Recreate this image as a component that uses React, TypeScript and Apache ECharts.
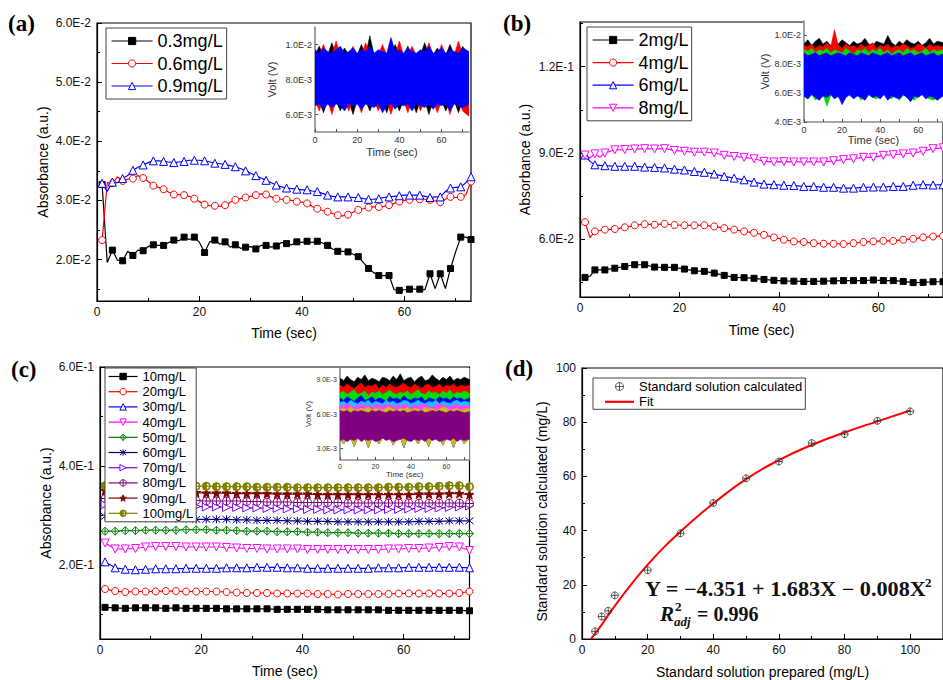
import React, { useEffect, useRef } from 'react';
import * as echarts from 'echarts';

const FONT = "'Liberation Sans', Arial, Helvetica, sans-serif";
const SERIF = "'Liberation Serif', 'Times New Roman', serif";

// ---------- time grids ----------
const A_T = Array.from({ length: 73 }, (_, i) => i + 1);
const B_T = [1, 2, 3, 4, 5, 7, 9, 11, 13, 15, 17, 19, 21, 23, 25, 27, 29, 31, 33, 35, 37, 39, 41, 43, 45, 47, 49, 51, 53, 55, 57, 59, 61, 63, 65, 67, 69, 71, 73];
const C_T = Array.from({ length: 37 }, (_, i) => 2 * i + 1);
const I_T = [0, 2, 4, 6, 8, 10, 12, 14, 16, 18, 20, 22, 24, 26, 28, 30, 32, 34, 36, 38, 40, 42, 44, 46, 48, 50, 52, 54, 56, 58, 60, 62, 64, 66, 68, 70, 73];

// ---------- panel (a) ----------
const A_NAMES = ['0.3mg/L', '0.6mg/L', '0.9mg/L'];
const A_03 = [0.0327, 0.0195, 0.0216, 0.0199, 0.0198, 0.0214, 0.0207, 0.0216, 0.0215, 0.0222,
  0.0225, 0.0224, 0.0224, 0.0229, 0.0233, 0.0232, 0.0238, 0.0234, 0.0238, 0.0229,
  0.0212, 0.0230, 0.0233, 0.0226, 0.0230, 0.0221, 0.0225, 0.0219, 0.0221, 0.0222,
  0.0218, 0.0224, 0.0224, 0.0221, 0.0223, 0.0229, 0.0227, 0.0225, 0.0230, 0.0229,
  0.0231, 0.0229, 0.0231, 0.0228, 0.0224, 0.0218, 0.0214, 0.0214, 0.0213, 0.0209,
  0.0205, 0.0195, 0.0185, 0.0178, 0.0173, 0.0173, 0.0173, 0.0149, 0.0148, 0.0149,
  0.0150, 0.0150, 0.0150, 0.0149, 0.0176, 0.0151, 0.0176, 0.0151, 0.0185, 0.0213,
  0.0238, 0.0238, 0.0234];
const A_06 = [0.0233, 0.0330, 0.0329, 0.0340, 0.0333, 0.0336, 0.0337, 0.0342, 0.0338, 0.0332,
  0.0325, 0.0322, 0.0319, 0.0314, 0.0310, 0.0310, 0.0309, 0.0307, 0.0303, 0.0298,
  0.0293, 0.0291, 0.0291, 0.0290, 0.0292, 0.0297, 0.0301, 0.0303, 0.0305, 0.0307,
  0.0309, 0.0311, 0.0310, 0.0306, 0.0303, 0.0302, 0.0301, 0.0300, 0.0298, 0.0297,
  0.0295, 0.0290, 0.0286, 0.0283, 0.0281, 0.0278, 0.0275, 0.0274, 0.0276, 0.0280,
  0.0284, 0.0286, 0.0288, 0.0289, 0.0289, 0.0290, 0.0292, 0.0295, 0.0298, 0.0300,
  0.0301, 0.0302, 0.0302, 0.0302, 0.0301, 0.0299, 0.0297, 0.0302, 0.0306, 0.0305,
  0.0306, 0.0310, 0.0332];
const A_09 = [0.0329, 0.0315, 0.0331, 0.0330, 0.0337, 0.0342, 0.0351, 0.0356, 0.0360, 0.0364,
  0.0367, 0.0367, 0.0366, 0.0365, 0.0364, 0.0365, 0.0366, 0.0368, 0.0368, 0.0368,
  0.0367, 0.0365, 0.0363, 0.0362, 0.0361, 0.0359, 0.0357, 0.0354, 0.0350, 0.0346,
  0.0342, 0.0338, 0.0334, 0.0330, 0.0326, 0.0323, 0.0321, 0.0320, 0.0319, 0.0318,
  0.0318, 0.0316, 0.0315, 0.0312, 0.0309, 0.0307, 0.0306, 0.0306, 0.0306, 0.0305,
  0.0305, 0.0303, 0.0302, 0.0302, 0.0303, 0.0305, 0.0306, 0.0307, 0.0308, 0.0309,
  0.0309, 0.0309, 0.0309, 0.0307, 0.0305, 0.0306, 0.0306, 0.0315, 0.0321, 0.0322,
  0.0323, 0.0330, 0.0340];
const A_Y_LABELS = [0.02, 0.03, 0.04, 0.05, 0.06];
const A_Y_MINOR = [0.015, 0.025, 0.035, 0.045, 0.055];

// inset (a): noise envelopes (upper / lower edge of each trace)
const AI_BLACK_HI = [0.0094, 0.0099, 0.0094, 0.0094, 0.0101, 0.0094, 0.0094, 0.0098, 0.0094, 0.0094, 0.0094, 0.0100, 0.0094, 0.0105, 0.0094, 0.0094, 0.0098, 0.0094, 0.0094, 0.0100, 0.0094, 0.0094, 0.0099, 0.0094, 0.0094, 0.0094, 0.0101, 0.0094, 0.0094, 0.0098, 0.0094, 0.0094, 0.0100, 0.0094, 0.0094, 0.0099, 0.0094];
const AI_BLACK_LO = [0.0068, 0.0068, 0.0061, 0.0068, 0.0068, 0.0068, 0.0062, 0.0068, 0.0068, 0.0060, 0.0068, 0.0068, 0.0068, 0.0062, 0.0068, 0.0068, 0.0068, 0.0061, 0.0068, 0.0068, 0.0062, 0.0068, 0.0068, 0.0068, 0.0061, 0.0068, 0.0068, 0.0060, 0.0068, 0.0068, 0.0068, 0.0062, 0.0068, 0.0068, 0.0061, 0.0068, 0.0068];
const AI_RED_HI = [0.0094, 0.0094, 0.0100, 0.0094, 0.0094, 0.0102, 0.0094, 0.0094, 0.0094, 0.0099, 0.0094, 0.0094, 0.0101, 0.0094, 0.0094, 0.0094, 0.0100, 0.0094, 0.0094, 0.0094, 0.0102, 0.0094, 0.0094, 0.0099, 0.0094, 0.0094, 0.0094, 0.0101, 0.0094, 0.0094, 0.0100, 0.0094, 0.0094, 0.0094, 0.0102, 0.0094, 0.0094];
const AI_RED_LO = [0.0068, 0.0062, 0.0068, 0.0068, 0.0060, 0.0068, 0.0068, 0.0068, 0.0062, 0.0068, 0.0068, 0.0061, 0.0068, 0.0068, 0.0068, 0.0062, 0.0068, 0.0068, 0.0060, 0.0068, 0.0068, 0.0068, 0.0061, 0.0068, 0.0068, 0.0062, 0.0068, 0.0068, 0.0068, 0.0061, 0.0068, 0.0068, 0.0060, 0.0068, 0.0068, 0.0062, 0.0059];
const AI_BLUE_HI = [0.0097, 0.0095, 0.0098, 0.0096, 0.0095, 0.0097, 0.0099, 0.0095, 0.0096, 0.0098, 0.0095, 0.0097, 0.0096, 0.0099, 0.0095, 0.0097, 0.0096, 0.0095, 0.0104, 0.0096, 0.0097, 0.0095, 0.0098, 0.0096, 0.0095, 0.0097, 0.0096, 0.0099, 0.0095, 0.0096, 0.0098, 0.0095, 0.0097, 0.0096, 0.0095, 0.0098, 0.0096];
const AI_BLUE_LO = [0.0065, 0.0066, 0.0063, 0.0066, 0.0064, 0.0066, 0.0065, 0.0062, 0.0066, 0.0065, 0.0066, 0.0063, 0.0066, 0.0065, 0.0064, 0.0066, 0.0061, 0.0065, 0.0066, 0.0063, 0.0066, 0.0065, 0.0066, 0.0062, 0.0066, 0.0065, 0.0064, 0.0066, 0.0063, 0.0066, 0.0065, 0.0066, 0.0062, 0.0066, 0.0065, 0.0064, 0.0066];
const AI_Y_LABELS = [0.006, 0.008, 0.01];

// ---------- panel (b) ----------
const B_NAMES = ['2mg/L', '4mg/L', '6mg/L', '8mg/L'];
const B_2 = [0.0468, 0.0472, 0.0494, 0.0494, 0.0494, 0.0500, 0.0506, 0.0512, 0.0512, 0.0504, 0.0503, 0.0503, 0.0497, 0.0491, 0.0489, 0.0483, 0.0475, 0.0468, 0.0467, 0.0465, 0.0461, 0.0458, 0.0456, 0.0455, 0.0454, 0.0454, 0.0455, 0.0456, 0.0457, 0.0457, 0.0457, 0.0459, 0.0457, 0.0457, 0.0454, 0.0450, 0.0451, 0.0453, 0.0453];
const B_4 = [0.0660, 0.0606, 0.0628, 0.0631, 0.0634, 0.0636, 0.0642, 0.0649, 0.0653, 0.0651, 0.0654, 0.0650, 0.0649, 0.0649, 0.0649, 0.0645, 0.0639, 0.0634, 0.0628, 0.0623, 0.0616, 0.0607, 0.0599, 0.0593, 0.0591, 0.0587, 0.0585, 0.0585, 0.0584, 0.0587, 0.0591, 0.0593, 0.0595, 0.0595, 0.0599, 0.0602, 0.0607, 0.0610, 0.0612];
const B_6 = [0.0893, 0.0871, 0.0859, 0.0857, 0.0856, 0.0854, 0.0854, 0.0854, 0.0851, 0.0850, 0.0848, 0.0844, 0.0841, 0.0836, 0.0833, 0.0827, 0.0819, 0.0813, 0.0807, 0.0799, 0.0792, 0.0790, 0.0788, 0.0787, 0.0784, 0.0784, 0.0781, 0.0781, 0.0778, 0.0778, 0.0781, 0.0782, 0.0782, 0.0784, 0.0784, 0.0788, 0.0790, 0.0789, 0.0790];
const B_8 = [0.0893, 0.0883, 0.0897, 0.0885, 0.0900, 0.0911, 0.0912, 0.0914, 0.0915, 0.0914, 0.0915, 0.0909, 0.0906, 0.0903, 0.0903, 0.0900, 0.0892, 0.0888, 0.0885, 0.0880, 0.0871, 0.0869, 0.0870, 0.0869, 0.0869, 0.0869, 0.0869, 0.0873, 0.0877, 0.0880, 0.0885, 0.0885, 0.0892, 0.0894, 0.0897, 0.0900, 0.0906, 0.0915, 0.0918];
const B_Y_LABELS = [0.06, 0.09, 0.12];
const B_Y_MINOR = [0.045, 0.075, 0.105, 0.135];

const BI_BLACK_HI = [0.0094, 0.0097, 0.0093, 0.0096, 0.0098, 0.0094, 0.0096, 0.0093, 0.0095, 0.0094, 0.0097, 0.0095, 0.0093, 0.0096, 0.0094, 0.0095, 0.0098, 0.0094, 0.0093, 0.0096, 0.0095, 0.0094, 0.0100, 0.0095, 0.0093, 0.0096, 0.0094, 0.0097, 0.0095, 0.0094, 0.0096, 0.0093, 0.0095, 0.0098, 0.0094, 0.0096, 0.0095];
const BI_BLACK_LO = [0.0062, 0.0061, 0.0063, 0.0060, 0.0062, 0.0063, 0.0061, 0.0062, 0.0060, 0.0063, 0.0062, 0.0061, 0.0063, 0.0062, 0.0060, 0.0062, 0.0063, 0.0061, 0.0062, 0.0060, 0.0063, 0.0061, 0.0062, 0.0063, 0.0060, 0.0062, 0.0061, 0.0063, 0.0062, 0.0060, 0.0062, 0.0063, 0.0061, 0.0062, 0.0060, 0.0063, 0.0062];
const BI_RED_HI = [0.0093, 0.0092, 0.0094, 0.0091, 0.0093, 0.0092, 0.0095, 0.0092, 0.0104, 0.0093, 0.0091, 0.0094, 0.0092, 0.0093, 0.0091, 0.0094, 0.0092, 0.0093, 0.0095, 0.0091, 0.0093, 0.0092, 0.0094, 0.0091, 0.0093, 0.0092, 0.0094, 0.0093, 0.0091, 0.0092, 0.0094, 0.0093, 0.0091, 0.0094, 0.0092, 0.0093, 0.0092];
const BI_RED_LO = [0.0061, 0.0060, 0.0062, 0.0061, 0.0059, 0.0062, 0.0060, 0.0061, 0.0062, 0.0059, 0.0061, 0.0062, 0.0060, 0.0061, 0.0062, 0.0060, 0.0059, 0.0061, 0.0062, 0.0060, 0.0061, 0.0059, 0.0062, 0.0060, 0.0061, 0.0062, 0.0060, 0.0061, 0.0059, 0.0062, 0.0060, 0.0061, 0.0062, 0.0060, 0.0061, 0.0059, 0.0061];
const BI_GREEN_HI = [0.0090, 0.0089, 0.0091, 0.0088, 0.0090, 0.0089, 0.0091, 0.0088, 0.0090, 0.0089, 0.0088, 0.0091, 0.0089, 0.0087, 0.0090, 0.0089, 0.0091, 0.0088, 0.0090, 0.0089, 0.0091, 0.0088, 0.0090, 0.0087, 0.0089, 0.0090, 0.0088, 0.0091, 0.0089, 0.0090, 0.0088, 0.0089, 0.0091, 0.0088, 0.0090, 0.0089, 0.0090];
const BI_GREEN_LO = [0.0058, 0.0056, 0.0059, 0.0055, 0.0058, 0.0059, 0.0051, 0.0058, 0.0059, 0.0057, 0.0055, 0.0059, 0.0058, 0.0057, 0.0059, 0.0055, 0.0058, 0.0059, 0.0057, 0.0056, 0.0058, 0.0059, 0.0057, 0.0056, 0.0059, 0.0055, 0.0058, 0.0059, 0.0057, 0.0055, 0.0058, 0.0059, 0.0057, 0.0056, 0.0055, 0.0058, 0.0059];
const BI_BLUE_HI = [0.0088, 0.0086, 0.0087, 0.0088, 0.0086, 0.0087, 0.0088, 0.0086, 0.0087, 0.0088, 0.0087, 0.0086, 0.0088, 0.0087, 0.0086, 0.0088, 0.0087, 0.0086, 0.0088, 0.0087, 0.0086, 0.0087, 0.0088, 0.0086, 0.0087, 0.0088, 0.0086, 0.0087, 0.0088, 0.0086, 0.0087, 0.0088, 0.0086, 0.0087, 0.0088, 0.0086, 0.0087];
const BI_BLUE_LO = [0.0058, 0.0056, 0.0059, 0.0057, 0.0055, 0.0058, 0.0057, 0.0059, 0.0056, 0.0058, 0.0052, 0.0057, 0.0059, 0.0056, 0.0058, 0.0057, 0.0055, 0.0059, 0.0057, 0.0058, 0.0056, 0.0059, 0.0055, 0.0058, 0.0057, 0.0056, 0.0059, 0.0057, 0.0054, 0.0058, 0.0057, 0.0059, 0.0056, 0.0058, 0.0057, 0.0055, 0.0058];
const BI_Y_LABELS = [0.004, 0.006, 0.008, 0.01];

// ---------- panel (c) ----------
const C_NAMES = ['10mg/L', '20mg/L', '30mg/L', '40mg/L', '50mg/L', '60mg/L', '70mg/L', '80mg/L', '90mg/L', '100mg/L'];
const C_10 = [0.114, 0.113, 0.112, 0.113, 0.113, 0.113, 0.112, 0.113, 0.112, 0.112, 0.112, 0.112, 0.111, 0.111, 0.111, 0.111, 0.111, 0.110, 0.110, 0.110, 0.110, 0.110, 0.109, 0.109, 0.109, 0.109, 0.109, 0.109, 0.108, 0.108, 0.108, 0.108, 0.108, 0.108, 0.108, 0.108, 0.107];
const C_20 = [0.151, 0.147, 0.145, 0.146, 0.146, 0.146, 0.147, 0.147, 0.146, 0.146, 0.146, 0.146, 0.145, 0.144, 0.143, 0.143, 0.143, 0.142, 0.142, 0.142, 0.142, 0.141, 0.141, 0.140, 0.141, 0.141, 0.141, 0.141, 0.141, 0.142, 0.142, 0.142, 0.142, 0.142, 0.142, 0.143, 0.146];
const C_30 = [0.206, 0.194, 0.191, 0.190, 0.191, 0.192, 0.192, 0.192, 0.193, 0.193, 0.193, 0.193, 0.194, 0.194, 0.194, 0.195, 0.195, 0.195, 0.194, 0.194, 0.193, 0.193, 0.193, 0.193, 0.193, 0.193, 0.193, 0.194, 0.194, 0.194, 0.195, 0.195, 0.195, 0.195, 0.195, 0.195, 0.194];
const C_40 = [0.244, 0.232, 0.232, 0.233, 0.236, 0.237, 0.237, 0.237, 0.236, 0.236, 0.236, 0.236, 0.235, 0.234, 0.233, 0.233, 0.232, 0.232, 0.232, 0.232, 0.231, 0.231, 0.231, 0.231, 0.231, 0.231, 0.231, 0.231, 0.232, 0.232, 0.233, 0.233, 0.234, 0.235, 0.237, 0.236, 0.229];
const C_50 = [0.268, 0.268, 0.269, 0.269, 0.270, 0.270, 0.270, 0.270, 0.271, 0.271, 0.271, 0.270, 0.270, 0.269, 0.268, 0.268, 0.268, 0.267, 0.267, 0.267, 0.266, 0.266, 0.265, 0.265, 0.265, 0.264, 0.264, 0.264, 0.264, 0.263, 0.263, 0.263, 0.263, 0.263, 0.263, 0.263, 0.263];
const C_60 = [0.298, 0.296, 0.295, 0.294, 0.294, 0.294, 0.293, 0.293, 0.293, 0.292, 0.292, 0.292, 0.292, 0.291, 0.291, 0.290, 0.290, 0.290, 0.289, 0.289, 0.288, 0.288, 0.288, 0.287, 0.287, 0.287, 0.287, 0.287, 0.287, 0.287, 0.287, 0.288, 0.288, 0.288, 0.289, 0.289, 0.289];
const C_70 = [0.322, 0.321, 0.320, 0.320, 0.320, 0.319, 0.319, 0.319, 0.318, 0.318, 0.317, 0.317, 0.316, 0.316, 0.315, 0.315, 0.314, 0.314, 0.313, 0.313, 0.312, 0.312, 0.311, 0.311, 0.311, 0.311, 0.311, 0.311, 0.312, 0.312, 0.313, 0.314, 0.314, 0.315, 0.316, 0.317, 0.319];
const C_80 = [0.334, 0.333, 0.332, 0.332, 0.331, 0.331, 0.331, 0.330, 0.330, 0.330, 0.329, 0.329, 0.329, 0.329, 0.328, 0.328, 0.327, 0.327, 0.327, 0.326, 0.326, 0.326, 0.326, 0.326, 0.325, 0.325, 0.325, 0.325, 0.325, 0.325, 0.325, 0.325, 0.325, 0.325, 0.325, 0.325, 0.324];
const C_90 = [0.350, 0.349, 0.349, 0.348, 0.348, 0.348, 0.347, 0.347, 0.346, 0.346, 0.345, 0.345, 0.345, 0.344, 0.344, 0.344, 0.344, 0.343, 0.343, 0.343, 0.343, 0.342, 0.342, 0.342, 0.342, 0.342, 0.342, 0.342, 0.342, 0.342, 0.342, 0.343, 0.343, 0.343, 0.344, 0.344, 0.342];
const C_100 = [0.360, 0.361, 0.361, 0.361, 0.360, 0.360, 0.360, 0.359, 0.359, 0.359, 0.359, 0.358, 0.358, 0.358, 0.358, 0.357, 0.357, 0.357, 0.357, 0.356, 0.356, 0.356, 0.356, 0.356, 0.356, 0.356, 0.356, 0.356, 0.357, 0.357, 0.357, 0.358, 0.358, 0.359, 0.360, 0.360, 0.358];
const C_Y_LABELS = [0.2, 0.4, 0.6];
const C_Y_MINOR = [0.1, 0.3, 0.5];

const CI_BLACK_HI = [0.0091, 0.0089, 0.0093, 0.0090, 0.0088, 0.0092, 0.0090, 0.0094, 0.0089, 0.0091, 0.0090, 0.0088, 0.0092, 0.0091, 0.0089, 0.0093, 0.0090, 0.0095, 0.0089, 0.0091, 0.0092, 0.0088, 0.0091, 0.0093, 0.0089, 0.0090, 0.0094, 0.0091, 0.0089, 0.0092, 0.0090, 0.0093, 0.0089, 0.0091, 0.0090, 0.0092, 0.0090];
const CI_RED_HI = [0.0085, 0.0083, 0.0086, 0.0084, 0.0082, 0.0085, 0.0087, 0.0083, 0.0085, 0.0084, 0.0086, 0.0082, 0.0085, 0.0083, 0.0086, 0.0084, 0.0083, 0.0085, 0.0087, 0.0084, 0.0083, 0.0086, 0.0084, 0.0082, 0.0085, 0.0086, 0.0083, 0.0084, 0.0086, 0.0083, 0.0085, 0.0084, 0.0086, 0.0083, 0.0085, 0.0084, 0.0085];
const CI_GREEN_HI = [0.0078, 0.0080, 0.0077, 0.0079, 0.0081, 0.0077, 0.0078, 0.0080, 0.0076, 0.0079, 0.0078, 0.0080, 0.0077, 0.0079, 0.0081, 0.0078, 0.0077, 0.0079, 0.0078, 0.0080, 0.0077, 0.0079, 0.0081, 0.0078, 0.0077, 0.0080, 0.0078, 0.0079, 0.0077, 0.0080, 0.0078, 0.0081, 0.0077, 0.0079, 0.0078, 0.0080, 0.0078];
const CI_BLUE_HI = [0.0074, 0.0072, 0.0075, 0.0073, 0.0071, 0.0074, 0.0076, 0.0072, 0.0073, 0.0075, 0.0072, 0.0074, 0.0073, 0.0071, 0.0075, 0.0073, 0.0074, 0.0072, 0.0076, 0.0073, 0.0072, 0.0074, 0.0073, 0.0075, 0.0071, 0.0074, 0.0073, 0.0072, 0.0075, 0.0073, 0.0074, 0.0072, 0.0075, 0.0073, 0.0074, 0.0072, 0.0074];
const CI_CYAN_HI = [0.0070, 0.0071, 0.0069, 0.0072, 0.0070, 0.0069, 0.0071, 0.0070, 0.0072, 0.0069, 0.0071, 0.0070, 0.0069, 0.0072, 0.0070, 0.0071, 0.0069, 0.0070, 0.0072, 0.0071, 0.0069, 0.0070, 0.0072, 0.0070, 0.0069, 0.0071, 0.0070, 0.0072, 0.0069, 0.0071, 0.0070, 0.0069, 0.0071, 0.0072, 0.0070, 0.0071, 0.0070];
const CI_MAG_HI = [0.0068, 0.0067, 0.0069, 0.0068, 0.0066, 0.0068, 0.0069, 0.0067, 0.0068, 0.0066, 0.0069, 0.0068, 0.0067, 0.0068, 0.0069, 0.0066, 0.0068, 0.0067, 0.0069, 0.0068, 0.0066, 0.0068, 0.0067, 0.0069, 0.0068, 0.0067, 0.0066, 0.0068, 0.0069, 0.0067, 0.0068, 0.0066, 0.0068, 0.0069, 0.0067, 0.0068, 0.0067];
const CI_YEL_HI = [0.0064, 0.0065, 0.0063, 0.0066, 0.0064, 0.0063, 0.0065, 0.0064, 0.0066, 0.0063, 0.0065, 0.0064, 0.0063, 0.0065, 0.0066, 0.0064, 0.0063, 0.0065, 0.0064, 0.0066, 0.0063, 0.0065, 0.0064, 0.0063, 0.0066, 0.0064, 0.0065, 0.0063, 0.0064, 0.0066, 0.0065, 0.0063, 0.0064, 0.0065, 0.0063, 0.0064, 0.0065];
const CI_PUR_HI = [0.0063, 0.0062, 0.0063, 0.0061, 0.0063, 0.0062, 0.0063, 0.0062, 0.0061, 0.0063, 0.0062, 0.0063, 0.0062, 0.0061, 0.0063, 0.0062, 0.0063, 0.0062, 0.0063, 0.0061, 0.0062, 0.0063, 0.0062, 0.0063, 0.0061, 0.0062, 0.0063, 0.0062, 0.0063, 0.0062, 0.0061, 0.0063, 0.0062, 0.0063, 0.0062, 0.0061, 0.0062];
const CI_PUR_LO = [0.0037, 0.0038, 0.0036, 0.0038, 0.0037, 0.0039, 0.0036, 0.0038, 0.0037, 0.0038, 0.0036, 0.0037, 0.0039, 0.0037, 0.0038, 0.0036, 0.0037, 0.0038, 0.0039, 0.0037, 0.0036, 0.0038, 0.0037, 0.0038, 0.0036, 0.0039, 0.0037, 0.0038, 0.0036, 0.0037, 0.0038, 0.0037, 0.0039, 0.0036, 0.0038, 0.0037, 0.0038];
const CI_LO = [0.0040, 0.0034, 0.0040, 0.0040, 0.0032, 0.0040, 0.0040, 0.0040, 0.0031, 0.0040, 0.0040, 0.0034, 0.0040, 0.0040, 0.0040, 0.0033, 0.0040, 0.0040, 0.0031, 0.0040, 0.0040, 0.0040, 0.0034, 0.0040, 0.0040, 0.0032, 0.0040, 0.0040, 0.0040, 0.0033, 0.0040, 0.0040, 0.0031, 0.0040, 0.0040, 0.0034, 0.0040];
const CI_Y_LABELS = [0.003, 0.006, 0.009];

// ---------- panel (d) ----------
const D_PREPARED = [4, 6, 8, 10, 20, 30, 40, 50, 60, 70, 80, 90, 100];
const D_CALC = [2.8, 8.3, 10.4, 16.1, 25.4, 39.0, 50.2, 59.3, 65.5, 72.3, 75.6, 80.5, 84.0];
const FIT_X = [2.7, 5, 10, 15, 20, 25, 30, 35, 40, 50, 60, 70, 80, 90, 100];
const FIT_Y = [0, 3.6, 12.2, 20.2, 27.4, 33.9, 39.6, 45.0, 50.0, 59.0, 66.0, 71.6, 76.2, 80.3, 84.3];
const D_LABELS = [0, 20, 40, 60, 80, 100];
const D_MINOR = [10, 30, 50, 70, 90];
const T_LABELS = [0, 20, 40, 60];
const T_MINOR = [10, 30, 50, 70];
const T_INSET_TICKS = [0, 10, 20, 30, 40, 50, 60, 70];

// ---------- symbols ----------
const TRI_DOWN = 'path://M0,0 L20,0 L10,18 Z';
const TRI_RIGHT = 'path://M0,0 L18,10 L0,20 Z';
const DIAMOND_PLUS = 'path://M10,0 L20,10 L10,20 L0,10 Z M10,0 L10,20 M0,10 L20,10';
const CIRCLE_PLUS = 'path://M10,0 A10,10 0 1,1 9.99,0 Z M10,0 L10,20 M0,10 L20,10';
const X_STAR = 'path://M2,2 L18,18 M18,2 L2,18 M10,0 L10,20';
const STAR = 'path://M10,0 L12.4,7 L20,7 L14,11.5 L16.2,19 L10,14.5 L3.8,19 L6,11.5 L0,7 L7.6,7 Z';
const HALF = 'path://M10,0 A10,10 0 0,0 10,20 Z M10,0 A10,10 0 0,1 10,20 L10,18.4 A8.4,8.4 0 0,0 10,1.6 Z';

const C_COLORS = ['#000000', '#ff0000', '#0000ff', '#ff00ff', '#008000', '#000080', '#8000ff', '#800080', '#800000', '#808000'];
const C_SYMBOLS = ['rect', 'circle', 'triangle', TRI_DOWN, DIAMOND_PLUS, X_STAR, TRI_RIGHT, CIRCLE_PLUS, STAR, HALF];
const C_HOLLOW = [false, true, true, true, true, true, true, true, false, false];
const C_SIZES = [6, 7, 8, 8, 8, 8, 8, 8, 9, 8];

const expFmt = (v: number) => v.toExponential(1).replace('e', 'E').replace('+', '');
const isOdd = (t: number) => Number.isInteger(t) && t % 2 === 1;

function curve(name: string, gi: number, xs: number[], ys: number[], color: string, symbol: string, hollow: boolean, size: number) {
  return {
    type: 'line', name, xAxisIndex: gi, yAxisIndex: gi,
    data: xs.map((x, i) => [x, ys[i]]),
    symbol,
    symbolSize: (v: number[]) => (isOdd(v[0]) ? size : 0),
    showSymbol: true,
    lineStyle: { color, width: 1.2 },
    itemStyle: { color: hollow ? '#fff' : color, borderColor: color, borderWidth: 1 },
    emphasis: { disabled: true },
    silent: true,
    z: 3,
  };
}

// noise trace drawn as a filled envelope polygon (upper edge forward, lower edge back)
function band(key: string, gi: number, hi: number[], lo: number[], color: string) {
  const pts = I_T.map((t, i) => [t, hi[i]]).concat(I_T.map((t, i) => [t, lo[i]]).reverse());
  return {
    type: 'custom', name: key, xAxisIndex: gi, yAxisIndex: gi, silent: true, clip: true, z: 2,
    data: [[I_T[0], hi[0]]],
    renderItem: (_p: any, api: any) => ({
      type: 'polygon',
      shape: { points: pts.map((p) => api.coord(p)) },
      style: { fill: color, stroke: color, lineWidth: 0.6 },
    }),
  };
}

function legendItem(name: string, color: string, hollow: boolean) {
  return { name, itemStyle: { color: hollow ? '#fff' : color, borderColor: color, borderWidth: 1 }, lineStyle: { color, width: 1.2 } };
}

const GRIDS = [
  { left: 97, top: 23, width: 374, height: 278, inset: false },
  { left: 315, top: 27, width: 154, height: 105, inset: true },
  { left: 580, top: 22, width: 374.5, height: 275, inset: false },
  { left: 804, top: 21, width: 152, height: 101, inset: true },
  { left: 100, top: 367, width: 369.5, height: 272, inset: false },
  { left: 340, top: 368, width: 129.5, height: 92, inset: true },
  { left: 582, top: 368, width: 371, height: 272, inset: false },
];

function xMain(gi: number, max: number, labels: number[], name: string, nameGap: number) {
  return {
    type: 'value', gridIndex: gi, position: 'bottom', min: 0, max, name, nameLocation: 'middle', nameGap,
    nameTextStyle: { fontSize: 14, color: '#000', fontFamily: FONT },
    axisLine: { show: true, onZero: false, lineStyle: { color: '#000', width: 1.2 } },
    axisTick: { show: true, inside: true, length: 5, customValues: labels, lineStyle: { color: '#000', width: 1 } },
    axisLabel: { show: true, customValues: labels, fontSize: 12, color: '#111', fontFamily: FONT, margin: 5 },
    splitLine: { show: false },
  };
}
function xMinor(gi: number, max: number, minors: number[]) {
  return {
    type: 'value', gridIndex: gi, position: 'bottom', min: 0, max,
    axisLine: { show: false, onZero: false },
    axisTick: { show: true, inside: true, length: 3, customValues: minors, lineStyle: { color: '#000', width: 1 } },
    axisLabel: { show: false }, splitLine: { show: false },
  };
}
function yMain(gi: number, min: number, max: number, labels: number[], name: string, nameGap: number, fmt: any, namePad: number[] = [0, 0, 0, 0]) {
  return {
    type: 'value', gridIndex: gi, position: 'left', min, max, name, nameLocation: 'middle', nameGap,
    nameTextStyle: { fontSize: 14, color: '#000', fontFamily: FONT, padding: namePad },
    axisLine: { show: true, onZero: false, lineStyle: { color: '#000', width: 1.2 } },
    axisTick: { show: true, inside: true, length: 5, customValues: labels, lineStyle: { color: '#000', width: 1 } },
    axisLabel: { show: true, customValues: labels, formatter: fmt, fontSize: 12, color: '#111', fontFamily: FONT, margin: 6 },
    splitLine: { show: false },
  };
}
function yMinor(gi: number, min: number, max: number, minors: number[]) {
  return {
    type: 'value', gridIndex: gi, position: 'left', min, max,
    axisLine: { show: false, onZero: false },
    axisTick: { show: true, inside: true, length: 3, customValues: minors, lineStyle: { color: '#000', width: 1 } },
    axisLabel: { show: false }, splitLine: { show: false },
  };
}
function xInset(gi: number, fontSize: number, nameSize: number, nameGap: number) {
  return {
    type: 'value', gridIndex: gi, position: 'bottom', min: 0, max: 73, name: 'Time (sec)', nameLocation: 'middle', nameGap,
    nameTextStyle: { fontSize: nameSize, color: '#333', fontFamily: FONT },
    axisLine: { show: true, onZero: false, lineStyle: { color: '#8a8a8a', width: 1.6 } },
    axisTick: { show: true, inside: true, length: 3, customValues: T_INSET_TICKS, lineStyle: { color: '#555', width: 1 } },
    axisLabel: { show: true, customValues: T_LABELS, fontSize, color: '#333', fontFamily: FONT, margin: 3 },
    splitLine: { show: false },
  };
}
function yInset(gi: number, min: number, max: number, labels: number[], fontSize: number, nameSize: number, nameGap: number) {
  return {
    type: 'value', gridIndex: gi, position: 'left', min, max, name: 'Volt (V)', nameLocation: 'middle', nameGap,
    nameTextStyle: { fontSize: nameSize, color: '#333', fontFamily: FONT },
    axisLine: { show: true, onZero: false, lineStyle: { color: '#8a8a8a', width: 1.6 } },
    axisTick: { show: true, inside: true, length: 3, customValues: labels, lineStyle: { color: '#555', width: 1 } },
    axisLabel: { show: true, customValues: labels, formatter: expFmt, fontSize, color: '#333', fontFamily: FONT, margin: 3 },
    splitLine: { show: false },
  };
}

function buildOption() {
  const grid = GRIDS.map((g) => ({
    left: g.left, top: g.top, width: g.width, height: g.height,
    show: true,
    backgroundColor: g.inset ? '#fff' : 'transparent',
    borderColor: '#000', borderWidth: g.inset ? 0 : 1.2,
    containLabel: false,
  }));

  const xAxis = [
    xMain(0, 73, T_LABELS, 'Time (sec)', 25),
    xInset(1, 9, 11, 14),
    xMain(2, 73, T_LABELS, 'Time (sec)', 26),
    xInset(3, 9, 11, 11),
    xMain(4, 73, T_LABELS, 'Time (sec)', 25),
    xInset(5, 7, 8, 8),
    xMain(6, 110, D_LABELS, 'Standard solution prepared (mg/L)', 26),
    xMinor(0, 73, T_MINOR),
    xMinor(2, 73, T_MINOR),
    xMinor(4, 73, T_MINOR),
    xMinor(6, 110, D_MINOR),
  ];
  const yAxis = [
    yMain(0, 0.013, 0.06, A_Y_LABELS, 'Absorbance (a.u.)', 47, expFmt),
    yInset(1, 0.005, 0.011, AI_Y_LABELS, 9, 11, 38),
    yMain(2, 0.04, 0.1355, B_Y_LABELS, 'Absorbance (a.u.)', 48, expFmt),
    yInset(3, 0.004, 0.011, BI_Y_LABELS, 9, 11, 33),
    yMain(4, 0.05, 0.6, C_Y_LABELS, 'Absorbance (a.u.)', 47, expFmt),
    yInset(5, 0.002, 0.01, CI_Y_LABELS, 7, 8, 27),
    yMain(6, 0, 100, D_LABELS, 'Standard solution calculated (mg/L)', 33, (v: number) => String(v), [0, 16, 0, 0]),
    yMinor(0, 0.013, 0.06, A_Y_MINOR),
    yMinor(2, 0.04, 0.1355, B_Y_MINOR),
    yMinor(4, 0.05, 0.6, C_Y_MINOR),
    yMinor(6, 0, 100, D_MINOR),
  ];

  const series: any[] = [];
  // insets (drawn bottom layer first)
  series.push(band('ai0', 1, AI_BLACK_HI, AI_BLACK_LO, '#000000'));
  series.push(band('ai1', 1, AI_RED_HI, AI_RED_LO, '#ff0000'));
  series.push(band('ai2', 1, AI_BLUE_HI, AI_BLUE_LO, '#0000ff'));
  series.push(band('bi0', 3, BI_BLACK_HI, BI_BLACK_LO, '#000000'));
  series.push(band('bi1', 3, BI_RED_HI, BI_RED_LO, '#ff0000'));
  series.push(band('bi2', 3, BI_GREEN_HI, BI_GREEN_LO, '#00dd00'));
  series.push(band('bi3', 3, BI_BLUE_HI, BI_BLUE_LO, '#0000ff'));
  series.push(band('ci0', 5, CI_BLACK_HI, CI_LO, '#000000'));
  series.push(band('ci1', 5, CI_RED_HI, CI_LO, '#ff0000'));
  series.push(band('ci2', 5, CI_GREEN_HI, CI_LO, '#00dd00'));
  series.push(band('ci3', 5, CI_BLUE_HI, CI_LO, '#0000ff'));
  series.push(band('ci4', 5, CI_CYAN_HI, CI_LO, '#00ccff'));
  series.push(band('ci5', 5, CI_MAG_HI, CI_LO, '#ff44ff'));
  series.push(band('ci6', 5, CI_YEL_HI, CI_LO, '#c8c000'));
  series.push(band('ci7', 5, CI_PUR_HI, CI_PUR_LO, '#800080'));

  // (a)
  series.push(curve(A_NAMES[0], 0, A_T, A_03, '#000000', 'rect', false, 6));
  series.push(curve(A_NAMES[1], 0, A_T, A_06, '#ff0000', 'circle', true, 7));
  series.push(curve(A_NAMES[2], 0, A_T, A_09, '#0000ff', 'triangle', true, 8));
  // (b)
  series.push(curve(B_NAMES[0], 2, B_T, B_2, '#000000', 'rect', false, 6));
  series.push(curve(B_NAMES[1], 2, B_T, B_4, '#ff0000', 'circle', true, 7));
  series.push(curve(B_NAMES[2], 2, B_T, B_6, '#0000ff', 'triangle', true, 8));
  series.push(curve(B_NAMES[3], 2, B_T, B_8, '#ff00ff', TRI_DOWN, true, 8));
  // (c)
  const C_DATA = [C_10, C_20, C_30, C_40, C_50, C_60, C_70, C_80, C_90, C_100];
  C_DATA.forEach((d, k) => series.push(curve(C_NAMES[k], 4, C_T, d, C_COLORS[k], C_SYMBOLS[k], C_HOLLOW[k], C_SIZES[k])));
  // (d)
  series.push({
    type: 'scatter', name: 'Standard solution calculated', xAxisIndex: 6, yAxisIndex: 6,
    data: D_PREPARED.map((x, i) => [x, D_CALC[i]]), symbol: CIRCLE_PLUS, symbolSize: 7,
    itemStyle: { color: 'rgba(255,255,255,0)', borderColor: '#333', borderWidth: 1 }, silent: true, z: 4,
  });
  series.push({
    type: 'line', name: 'Fit', xAxisIndex: 6, yAxisIndex: 6, smooth: true,
    data: FIT_X.map((x, i) => [x, FIT_Y[i]]), symbol: 'none', silent: true,
    lineStyle: { color: '#ff0000', width: 2 }, itemStyle: { color: '#ff0000' }, z: 3,
  });

  const legendCommon = {
    orient: 'vertical', selectedMode: false, backgroundColor: '#fff', borderColor: '#444', borderWidth: 1, borderRadius: 0,
  };
  const legend = [
    {
      ...legendCommon, left: 106, top: 28, itemWidth: 41, itemHeight: 9, itemGap: 2.5, padding: [3, 4, 3, 5],
      textStyle: { fontSize: 18, lineHeight: 20, color: '#000', fontFamily: FONT },
      data: [legendItem(A_NAMES[0], '#000000', false), legendItem(A_NAMES[1], '#ff0000', true), legendItem(A_NAMES[2], '#0000ff', true)],
    },
    {
      ...legendCommon, left: 587, top: 27, itemWidth: 41, itemHeight: 9, itemGap: 2.6, padding: [3, 3, 3, 5],
      textStyle: { fontSize: 18, lineHeight: 20, color: '#000', fontFamily: FONT },
      data: [legendItem(B_NAMES[0], '#000000', false), legendItem(B_NAMES[1], '#ff0000', true), legendItem(B_NAMES[2], '#0000ff', true), legendItem(B_NAMES[3], '#ff00ff', true)],
    },
    {
      ...legendCommon, left: 105, top: 368, itemWidth: 29, itemHeight: 8, itemGap: 0.2, padding: [1, 3, 1, 3],
      textStyle: { fontSize: 13, lineHeight: 15, color: '#000', fontFamily: FONT },
      data: C_NAMES.map((n, k) => legendItem(n, C_COLORS[k], C_HOLLOW[k])),
    },
    {
      ...legendCommon, left: 593, top: 378, itemWidth: 29, itemHeight: 8, itemGap: 0.3, padding: [1, 3, 0, 12],
      textStyle: { fontSize: 13, lineHeight: 15, color: '#000', fontFamily: FONT },
      data: [
        { name: 'Standard solution calculated', itemStyle: { color: '#fff', borderColor: '#333', borderWidth: 1 } },
        { name: 'Fit', icon: 'path://M0,0 L40,0 L40,3 L0,3 Z', itemStyle: { color: '#ff0000', borderWidth: 0 } },
      ],
    },
  ];

  const label = (text: string, x: number, y: number) => ({
    type: 'text', x, y, silent: true,
    style: { text, font: `bold 23px ${SERIF}`, fill: '#000', verticalAlign: 'middle', textVerticalAlign: 'middle' },
  });
  const eqText = (text: string, x: number, y: number, font: string, extra: any = {}) => ({
    type: 'text', x, y, silent: true, ...extra,
    style: { text, font, fill: '#111', verticalAlign: 'middle', textVerticalAlign: 'middle' },
  });

  const graphic = [
    label('(a)', 8, 23),
    label('(b)', 503, 23),
    label('(c)', 11, 369),
    label('(d)', 505, 368),
    eqText('Y = −4.351 + 1.683X − 0.008X', 645, 589, `bold 20px ${SERIF}`, { scaleX: 1.11 }),
    eqText('2', 925, 582, `bold 13px ${SERIF}`),
    eqText('R', 660, 614, `italic bold 21px ${SERIF}`),
    eqText('2', 675, 606, `bold 13px ${SERIF}`),
    eqText('adj', 674, 621, `italic bold 13px ${SERIF}`),
    eqText('= 0.996', 697, 614, `bold 20px ${SERIF}`),
  ];

  return { animation: false, backgroundColor: '#fff', grid, xAxis, yAxis, series, legend, graphic };
}

export default function App() {
  const ref = useRef<HTMLDivElement>(null);
  useEffect(() => {
    if (!ref.current) return;
    const chart = echarts.init(ref.current, null, { renderer: 'svg' });
    chart.setOption(buildOption() as any);
    return () => chart.dispose();
  }, []);
  return <div ref={ref} style={{ position: 'fixed', left: 0, top: 0, width: 943, height: 680, background: '#fff' }} />;
}
